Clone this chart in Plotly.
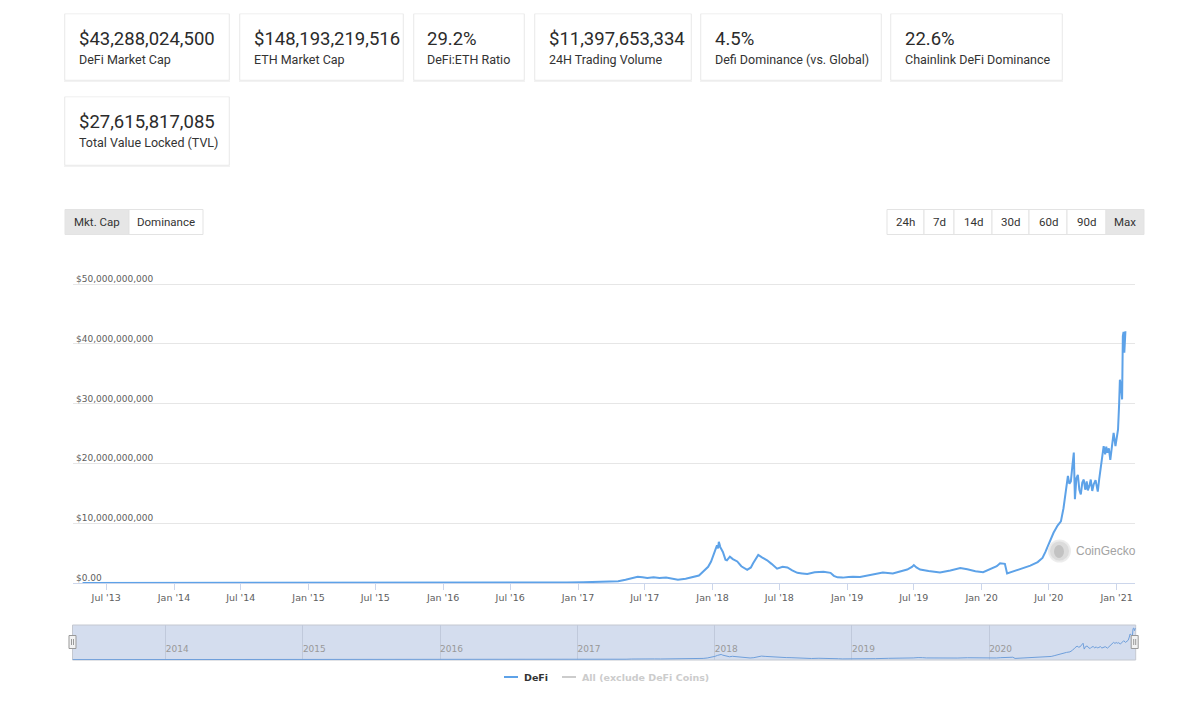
import plotly.graph_objects as go

W, H = 1200, 714

# ---------------- data ----------------
dates = [
    "2013-04-28", "2013-07-01", "2013-10-01", "2014-01-01", "2014-04-01", "2014-07-01",
    "2014-10-01", "2015-01-01", "2015-04-01", "2015-07-01", "2015-10-01", "2016-01-01",
    "2016-03-15", "2016-06-15", "2016-09-01", "2016-12-01", "2017-01-15", "2017-02-20",
    "2017-03-25", "2017-04-20", "2017-05-10", "2017-05-25", "2017-06-12", "2017-06-25",
    "2017-07-08", "2017-07-25", "2017-08-10", "2017-08-28", "2017-09-10", "2017-09-29",
    "2017-10-20", "2017-11-12", "2017-11-25", "2017-12-01", "2017-12-12", "2017-12-20",
    "2017-12-28", "2018-01-02", "2018-01-08", "2018-01-13", "2018-01-16", "2018-01-18",
    "2018-01-22", "2018-01-29", "2018-02-05", "2018-02-09", "2018-02-17", "2018-02-25",
    "2018-03-09", "2018-03-20", "2018-04-05", "2018-04-15", "2018-04-21", "2018-05-05",
    "2018-05-15", "2018-05-29", "2018-06-10", "2018-06-25", "2018-07-10", "2018-07-23",
    "2018-08-05", "2018-08-19", "2018-09-01", "2018-09-15", "2018-10-05", "2018-10-29",
    "2018-11-17", "2018-11-26", "2018-12-06", "2018-12-20", "2019-01-05", "2019-01-17",
    "2019-02-05", "2019-03-05", "2019-04-08", "2019-05-05", "2019-05-25", "2019-06-13",
    "2019-06-26", "2019-07-01", "2019-07-08", "2019-07-18", "2019-08-10", "2019-09-10",
    "2019-10-08", "2019-11-04", "2019-11-23", "2019-12-15", "2020-01-05", "2020-01-20",
    "2020-02-01", "2020-02-11", "2020-02-20", "2020-03-04", "2020-03-10", "2020-03-26",
    "2020-04-06", "2020-04-25", "2020-05-12", "2020-06-01", "2020-06-14", "2020-06-22",
    "2020-06-28", "2020-07-05", "2020-07-14", "2020-07-25", "2020-08-03", "2020-08-10",
    "2020-08-16", "2020-08-22", "2020-08-26", "2020-08-30", "2020-09-03", "2020-09-07",
    "2020-09-10", "2020-09-14", "2020-09-18", "2020-09-22", "2020-09-26", "2020-09-30",
    "2020-10-04", "2020-10-08", "2020-10-12", "2020-10-15", "2020-10-19", "2020-10-23",
    "2020-10-27", "2020-10-31", "2020-11-05", "2020-11-11", "2020-11-15", "2020-11-19",
    "2020-11-23", "2020-11-27", "2020-12-01", "2020-12-04", "2020-12-07", "2020-12-11",
    "2020-12-15", "2020-12-19", "2020-12-24", "2020-12-29", "2021-01-02", "2021-01-05",
    "2021-01-08", "2021-01-10", "2021-01-13", "2021-01-16", "2021-01-18", "2021-01-20",
    "2021-01-22", "2021-01-25",
]
defi_bn = [
    0.012, 0.010, 0.015, 0.030, 0.020, 0.015,
    0.010, 0.008, 0.008, 0.010, 0.012, 0.020,
    0.060, 0.090, 0.070, 0.080, 0.12, 0.18,
    0.22, 0.30, 0.55, 0.80, 1.05, 0.95,
    0.85, 0.95, 0.85, 0.92, 0.80, 0.55,
    0.70, 1.00, 1.25, 1.6, 2.2, 2.7,
    3.6, 4.4, 5.6, 6.3, 5.8, 6.9,
    6.0, 5.2, 3.9, 3.8, 4.4, 4.0,
    3.6, 2.8, 2.2, 2.6, 3.3, 4.7,
    4.3, 3.8, 3.2, 2.4, 2.7, 2.6,
    2.1, 1.7, 1.6, 1.5, 1.8, 1.9,
    1.7, 1.2, 0.95, 0.90, 1.00, 1.05,
    1.00, 1.3, 1.75, 1.6, 2.0, 2.25,
    2.7, 3.0, 2.6, 2.25, 2.0, 1.75,
    2.1, 2.5, 2.3, 1.95, 1.8, 2.2,
    2.6, 2.8, 3.3, 3.2, 1.6, 1.9,
    2.1, 2.5, 2.9, 3.5, 4.2, 5.2,
    6.1, 7.2, 8.4, 9.6, 10.3, 12.5,
    15.6, 17.9, 16.6, 17.0, 19.5, 21.8,
    14.0, 17.5, 18.1, 15.6, 14.8, 16.8,
    17.3, 15.6, 17.0, 15.5, 16.2, 17.3,
    15.4, 16.5, 17.2, 15.3, 17.4, 19.0,
    20.8, 22.9, 21.5, 22.8, 21.8, 22.5,
    20.6, 23.0, 25.1, 22.9, 24.5, 25.7,
    30.0, 34.0, 33.0, 30.7, 41.3, 42.0,
    38.5, 42.1,
]
defi = [v * 1e9 for v in defi_bn]

y_tickvals = [0, 10e9, 20e9, 30e9, 40e9, 50e9]
y_ticktext = ["$0.00", "$10,000,000,000", "$20,000,000,000", "$30,000,000,000",
              "$40,000,000,000", "$50,000,000,000"]

x_tickvals = ["2013-07-01", "2014-01-01", "2014-07-01", "2015-01-01", "2015-07-01",
              "2016-01-01", "2016-07-01", "2017-01-01", "2017-07-01", "2018-01-01",
              "2018-07-01", "2019-01-01", "2019-07-01", "2020-01-01", "2020-07-01",
              "2021-01-01"]
x_ticktext = ["Jul '13", "Jan '14", "Jul '14", "Jan '15", "Jul '15", "Jan '16", "Jul '16",
              "Jan '17", "Jul '17", "Jan '18", "Jul '18", "Jan '19", "Jul '19", "Jan '20",
              "Jul '20", "Jan '21"]

nav_tickvals = ["2014-01-01", "2015-01-01", "2016-01-01", "2017-01-01", "2018-01-01",
                "2019-01-01", "2020-01-01"]
nav_ticktext = ["2014", "2015", "2016", "2017", "2018", "2019", "2020"]

card_values = ["$43,288,024,500", "$148,193,219,516", "29.2%", "$11,397,653,334",
               "4.5%", "22.6%", "$27,615,817,085"]
card_labels = ["DeFi Market Cap", "ETH Market Cap", "DeFi:ETH Ratio", "24H Trading Volume",
               "Defi Dominance (vs. Global)", "Chainlink DeFi Dominance",
               "Total Value Locked (TVL)"]

view_buttons = ["Mkt. Cap", "Dominance"]
range_buttons = ["24h", "7d", "14d", "30d", "60d", "90d", "Max"]

legend_names = ["DeFi", "All (exclude DeFi Coins)"]

# ---------------- layout geometry (pixels) ----------------
def px(x):
    return x / W


def py(y):
    return 1 - y / H


card_boxes = [(65, 229, 14, 80), (240, 403, 14, 80), (414, 524, 14, 80),
              (535, 691, 14, 80), (701, 881, 14, 80), (891, 1062, 14, 80),
              (65, 229, 97, 165)]
view_boxes = [(65, 129), (129, 203)]
range_boxes = [(887, 924), (924, 954), (954, 992), (992, 1029), (1029, 1067),
               (1067, 1106), (1106, 1144)]
BTN_Y0, BTN_Y1 = 209.5, 234.5

PLOT_X0, PLOT_X1 = 73, 1135
Y0_PX, Y50_PX = 583, 284
Y_MAX = 50.5e9
PLOT_TOP = Y0_PX - (Y0_PX - Y50_PX) * Y_MAX / 50e9

LINE_BLUE = "#5da2e8"
SANS = "Roboto"
CHART = "DejaVu Sans"

fig = go.Figure()

fig.add_trace(go.Scatter(x=dates, y=defi, mode="lines", name=legend_names[0],
                         line=dict(color=LINE_BLUE, width=2),
                         xaxis="x", yaxis="y", hoverinfo="x+y"))
fig.add_trace(go.Scatter(x=dates, y=defi, mode="lines", name="navigator",
                         line=dict(color="#6f9fdb", width=1),
                         xaxis="x2", yaxis="y2", hoverinfo="skip"))

shapes = []
annotations = []

# cards
for (x0, x1, y0, y1), val, lab in zip(card_boxes, card_values, card_labels):
    shapes.append(dict(type="rect", xref="paper", yref="paper",
                       x0=px(x0 - 1), x1=px(x1 + 1), y0=py(y1 + 2), y1=py(y0 - 0.5),
                       fillcolor="rgba(0,0,0,0.05)", line=dict(width=0), layer="below"))
    shapes.append(dict(type="rect", xref="paper", yref="paper",
                       x0=px(x0), x1=px(x1), y0=py(y1), y1=py(y0),
                       fillcolor="white", line=dict(color="rgba(0,0,0,0.04)", width=1),
                       layer="below"))
    annotations.append(dict(xref="paper", yref="paper", x=px(x0 + 11.5), y=py(y0 + 25),
                            xanchor="left", yanchor="middle", showarrow=False, text=val,
                            font=dict(family=SANS, size=18.5, color="#2b2b2b")))
    annotations.append(dict(xref="paper", yref="paper", x=px(x0 + 11.5), y=py(y0 + 45.5),
                            xanchor="left", yanchor="middle", showarrow=False, text=lab,
                            font=dict(family=SANS, size=12.5, color="#333333")))

# buttons
def add_buttons(boxes, labels, selected):
    for (x0, x1), lab in zip(boxes, labels):
        sel = lab == selected
        shapes.append(dict(type="rect", xref="paper", yref="paper",
                           x0=px(x0), x1=px(x1), y0=py(BTN_Y1), y1=py(BTN_Y0),
                           fillcolor="#e6e6e6" if sel else "white",
                           line=dict(color="#e3e3e3", width=1), layer="below"))
        annotations.append(dict(xref="paper", yref="paper", x=px((x0 + x1) / 2),
                                y=py((BTN_Y0 + BTN_Y1) / 2), xanchor="center",
                                yanchor="middle", showarrow=False, text=lab,
                                font=dict(family=SANS, size=11.5, color="#333333")))


add_buttons(view_boxes, view_buttons, "Mkt. Cap")
add_buttons(range_boxes, range_buttons, "Max")

# y-axis labels (Highcharts style: sitting on top of each grid line)
for v, t in zip(y_tickvals, y_ticktext):
    annotations.append(dict(xref="paper", yref="y", x=px(73.5), y=v, xanchor="left",
                            yanchor="bottom", yshift=-2, showarrow=False, text=t,
                            font=dict(family=CHART, size=9, color="#606060")))

# navigator background + handles
NX0, NX1, NY0, NY1 = 72.5, 1135.7, 625, 660
shapes.append(dict(type="rect", xref="paper", yref="paper", x0=px(NX0), x1=px(NX1),
                   y0=py(NY1), y1=py(NY0), fillcolor="rgba(102,133,194,0.28)",
                   line=dict(color="#c4c8d0", width=1), layer="below"))
for hx in (NX0, NX1 - 1):
    shapes.append(dict(type="rect", xref="paper", yref="paper", x0=px(hx - 3.5),
                       x1=px(hx + 3.5), y0=py(648.5), y1=py(635.5), fillcolor="#f2f2f2",
                       line=dict(color="#999999", width=1)))
    for gx in (hx - 1, hx + 1):
        shapes.append(dict(type="line", xref="paper", yref="paper", x0=px(gx), x1=px(gx),
                           y0=py(645), y1=py(639), line=dict(color="#999999", width=1)))

# CoinGecko watermark
shapes.append(dict(type="circle", xref="paper", yref="paper", x0=px(1049), x1=px(1070),
                   y0=py(561.5), y1=py(540.5), fillcolor="rgba(190,190,190,0.55)",
                   line=dict(color="rgba(235,235,235,0.9)", width=2)))
shapes.append(dict(type="circle", xref="paper", yref="paper", x0=px(1054), x1=px(1064),
                   y0=py(558), y1=py(545), fillcolor="rgba(150,150,150,0.35)",
                   line=dict(width=0)))
annotations.append(dict(xref="paper", yref="paper", x=px(1074), y=py(551), xanchor="left",
                        yanchor="middle", showarrow=False, text="CoinGecko",
                        font=dict(family="Liberation Sans", size=12, color="#a3a3a3")))

# legend
LEG_Y = 677
leg_items = [(504, 518, 522, legend_names[0], LINE_BLUE, "#333333"),
             (562, 576, 580, legend_names[1], "#cccccc", "#cccccc")]
for lx0, lx1, tx, name, lc, tc in leg_items:
    shapes.append(dict(type="line", xref="paper", yref="paper", x0=px(lx0), x1=px(lx1),
                       y0=py(LEG_Y), y1=py(LEG_Y), line=dict(color=lc, width=2)))
    annotations.append(dict(xref="paper", yref="paper", x=px(tx), y=py(LEG_Y),
                            xanchor="left", yanchor="middle", showarrow=False,
                            text="<b>" + name + "</b>",
                            font=dict(family=CHART, size=9.5, color=tc)))

fig.update_layout(
    width=W, height=H,
    margin=dict(l=0, r=0, t=0, b=0),
    paper_bgcolor="white", plot_bgcolor="white",
    showlegend=False,
    shapes=shapes, annotations=annotations,
    xaxis=dict(domain=[px(PLOT_X0), px(PLOT_X1)], anchor="y", type="date",
               range=["2013-04-02", "2021-02-20"],
               tickmode="array", tickvals=x_tickvals, ticktext=x_ticktext,
               ticks="outside", ticklen=6, tickcolor="#ccd6eb", tickwidth=1,
               showline=True, linecolor="#ccd6eb", linewidth=1, showgrid=False,
               zeroline=False, fixedrange=True,
               tickfont=dict(family=CHART, size=9.5, color="#606060")),
    yaxis=dict(domain=[py(Y0_PX), py(PLOT_TOP)], anchor="x", range=[0, Y_MAX],
               tickmode="array", tickvals=y_tickvals, showticklabels=False,
               showgrid=True, gridcolor="#e6e6e6",
               zeroline=False, showline=False, ticks="", fixedrange=True),
    xaxis2=dict(domain=[px(NX0), px(NX1)], anchor="y2", type="date",
                range=["2013-04-28", "2021-01-25"],
                tickmode="array", tickvals=nav_tickvals, ticktext=nav_ticktext,
                ticklabelposition="inside right", ticks="", showgrid=True,
                gridcolor="#c0c9db", showline=False, zeroline=False, fixedrange=True,
                tickfont=dict(family=CHART, size=9, color="#999999")),
    yaxis2=dict(domain=[py(NY1), py(NY0)], anchor="x2", range=[-0.5e9, 46e9],
                showgrid=False, showticklabels=False, zeroline=False, showline=False,
                ticks="", fixedrange=True),
)

fig.write_html("out.html", config={"displayModeBar": False},
               post_script="document.body.style.margin='0';")
